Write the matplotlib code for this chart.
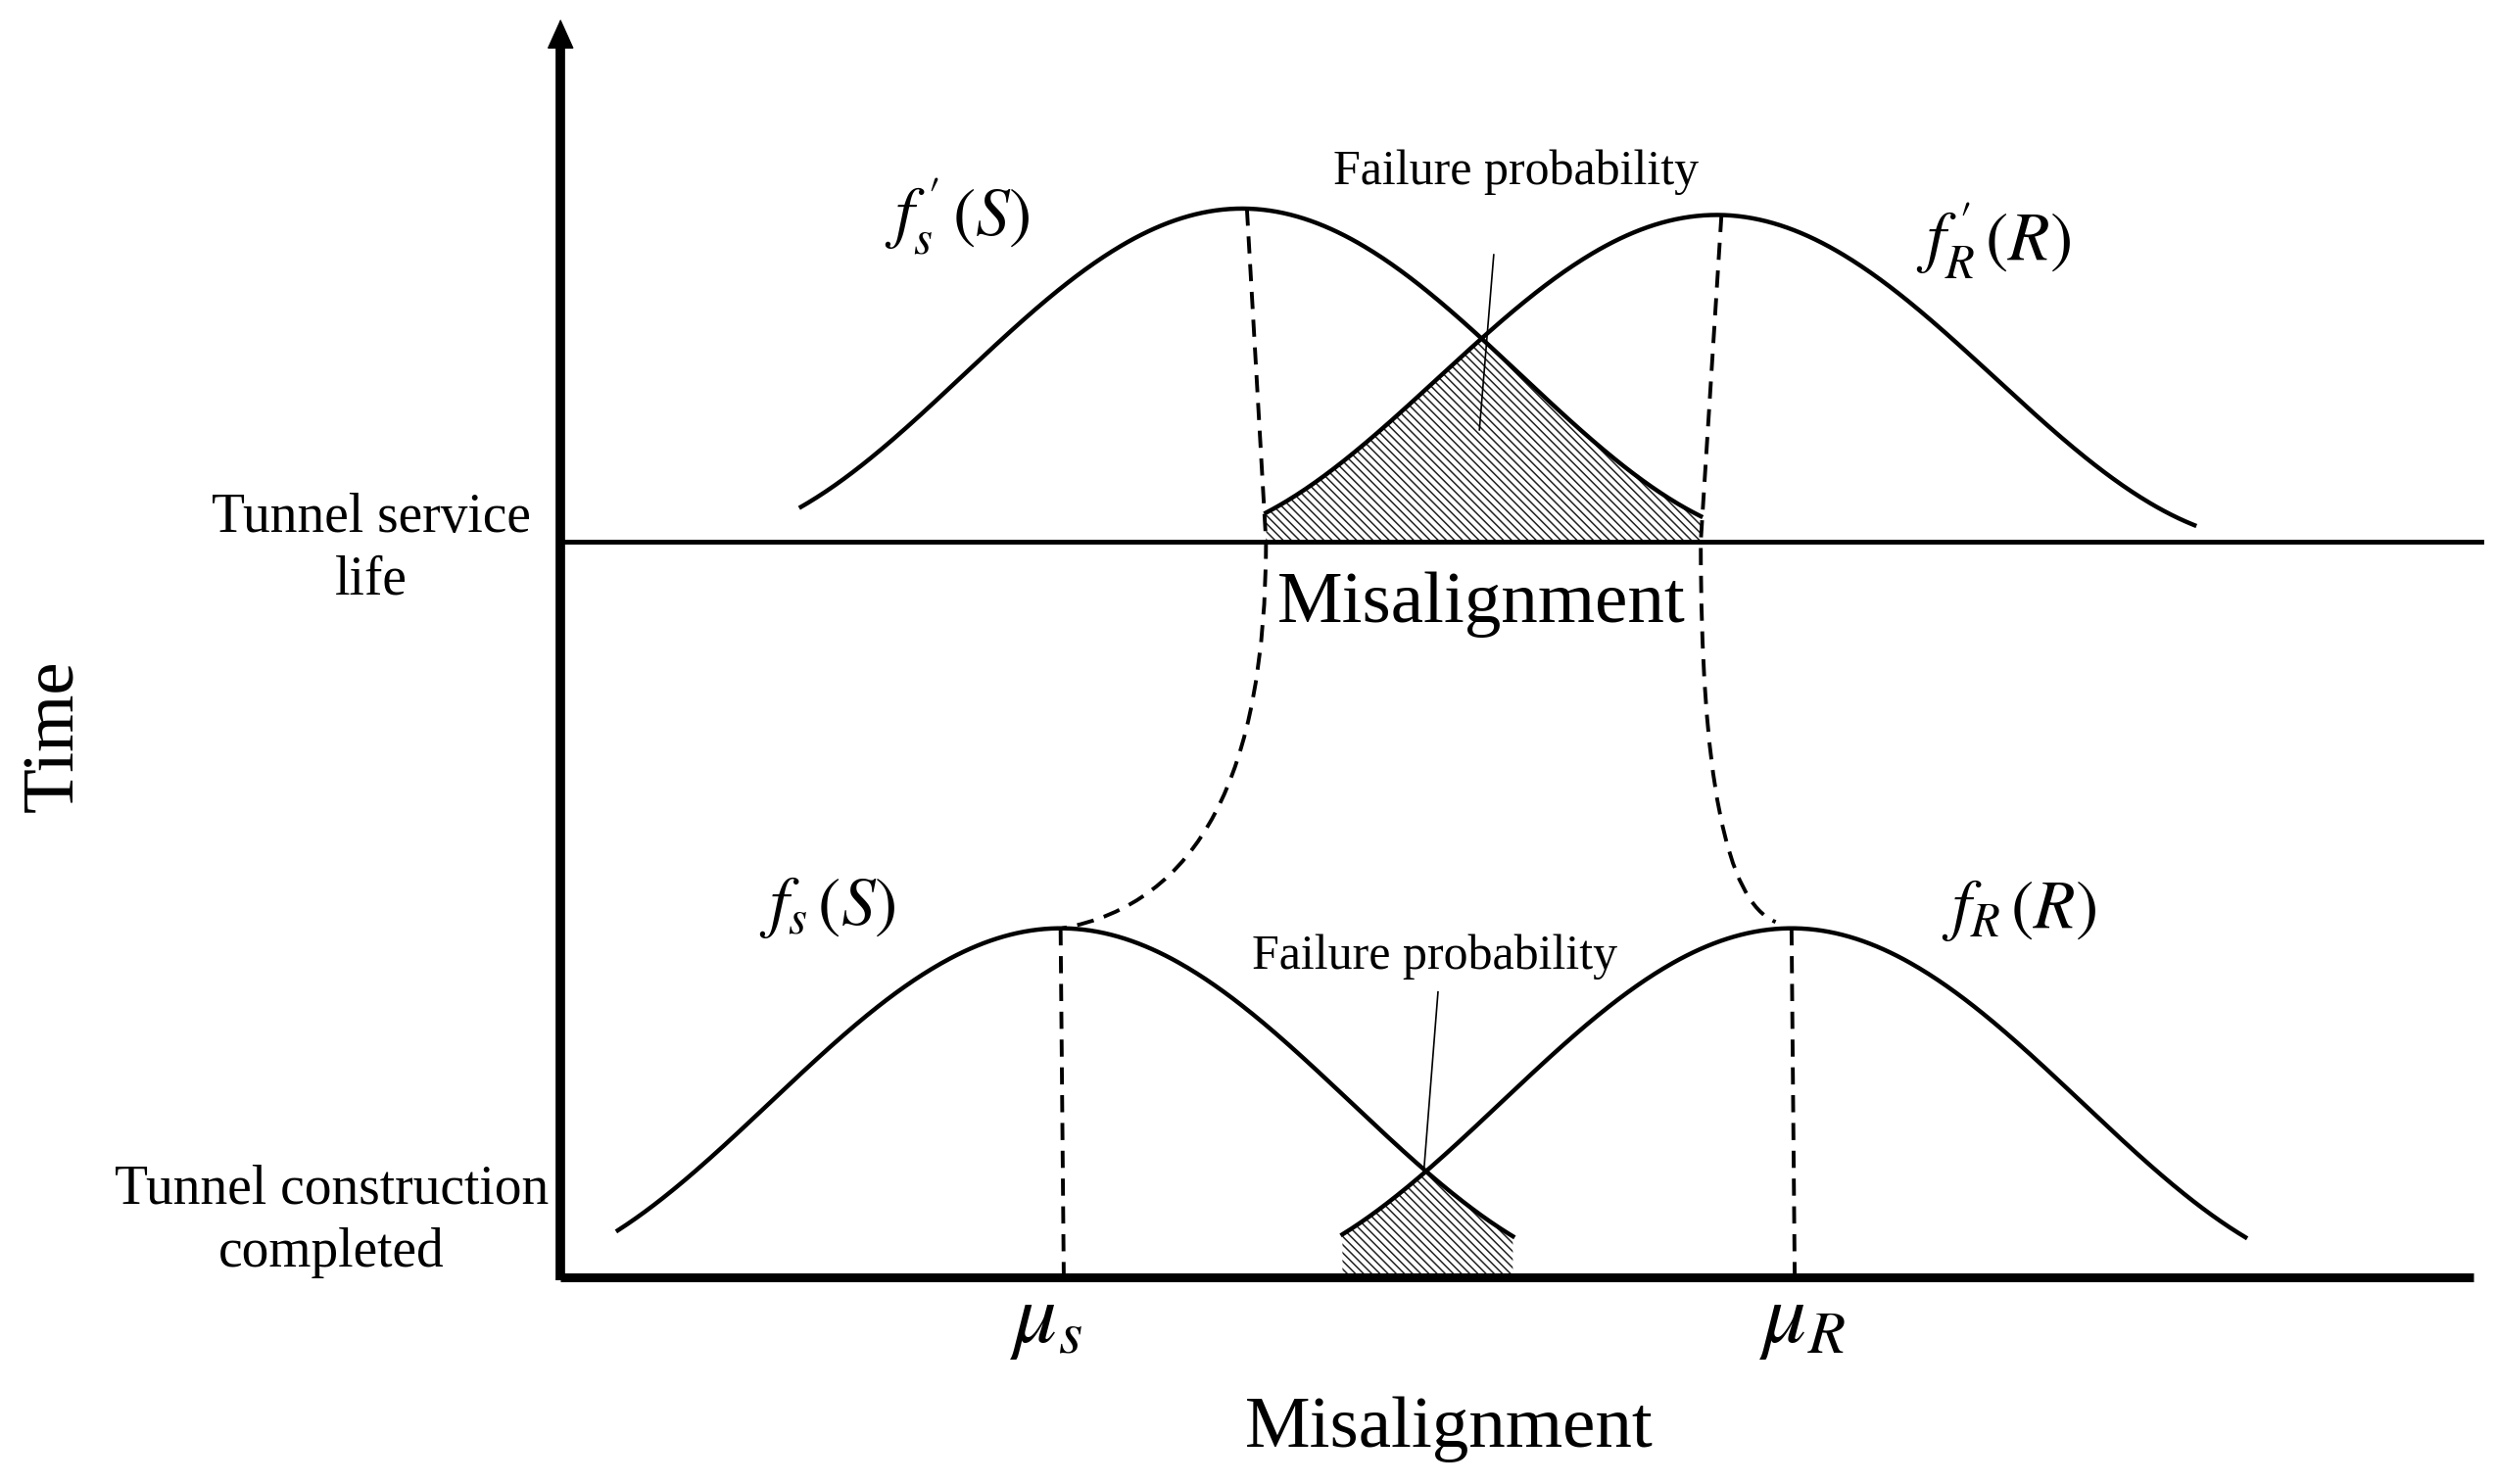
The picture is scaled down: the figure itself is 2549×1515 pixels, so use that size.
import numpy as np
import matplotlib.pyplot as plt
from matplotlib.path import Path
from matplotlib.patches import PathPatch

plt.rcParams['font.family'] = ['Liberation Serif', 'DejaVu Serif']
plt.rcParams['mathtext.fontset'] = 'stix'
plt.rcParams['hatch.linewidth'] = 1.1

# schematic frame (x to the right, y downwards, as in the source picture)
axis_x0 = 352          # time axis position
axis_x1 = 1553         # end of misalignment axis
baseline_built = 802   # "Tunnel construction completed"
baseline_service = 340 # "Tunnel service life"

# density curves: f_s'(S), f_R'(R), f_s(S), f_R(R)
curve_centre = [780, 1078, 666, 1125]
curve_peak = [209, 205, 219, 219]
curve_halfwidth = [350, 350, 365, 365]
curve_start = [503, 795, 388, 843]
curve_end = [1068, 1378, 950, 1410]
curve_base = [baseline_service, baseline_service, baseline_built, baseline_built]

# overlap (failure probability) limits
overlap_service = [795, 1068]
overlap_built = [843, 950]


def bell(x, c, a, w):
    return a * (1 + np.cos(np.pi * np.clip((x - c) / w, -1, 1))) / 2


def curve_y(i, x):
    return curve_base[i] - bell(x, curve_centre[i], curve_peak[i], curve_halfwidth[i])


fig = plt.figure(figsize=(25.49, 15.15), dpi=100)
ax = fig.add_axes([0, 0, 1, 1])
ax.set_xlim(0, 1568)
ax.set_ylim(932, 0)
ax.axis('off')

# axes
ax.plot([axis_x0, axis_x0], [baseline_built + 2, 28], color='black', lw=7, solid_capstyle='butt')
ax.annotate('', xy=(axis_x0, 12), xytext=(axis_x0, 50),
            arrowprops=dict(arrowstyle='-|>,head_length=1.0,head_width=0.45', mutation_scale=20,
                            color='black', lw=1, shrinkA=0, shrinkB=0))
ax.plot([axis_x0, axis_x1], [baseline_built, baseline_built], color='black', lw=6.5, solid_capstyle='butt')
ax.plot([axis_x0, 1558], [baseline_service, baseline_service], color='black', lw=3.5)

# failure probability areas
for (x0, x1), (i, j) in [(overlap_service, (0, 1)), (overlap_built, (2, 3))]:
    xs = np.linspace(x0, x1, 200)
    top = np.maximum(curve_y(i, xs), curve_y(j, xs))
    ax.fill_between(xs, top, curve_base[i], facecolor='white', edgecolor='#222222',
                    hatch='\\\\\\\\', lw=0)

# density curves
for i in range(4):
    xs = np.linspace(curve_start[i], curve_end[i], 400)
    ax.plot(xs, curve_y(i, xs), color='black', lw=3.2)

dash = (0, (4.5, 2.8))

# mean lines, built state
for i in (2, 3):
    ax.plot([curve_centre[i], curve_centre[i] + 2], [curve_y(i, curve_centre[i]), baseline_built],
            color='black', lw=2.8, linestyle=dash)

# shift of the means from construction to service life
for top_i, bot_i, xm in [(0, 2, overlap_service[0]), (1, 3, overlap_service[1])]:
    p0 = (curve_centre[top_i] + 3, curve_y(top_i, curve_centre[top_i]))
    p1 = (xm, baseline_service)
    p2 = (xm, 560)
    p3 = (curve_centre[bot_i] + (1 if bot_i == 2 else -10), curve_y(bot_i, curve_centre[bot_i]) + (0 if bot_i == 2 else -4))
    path = Path([p0, p1, p2, p3], [Path.MOVETO, Path.LINETO, Path.CURVE3, Path.CURVE3])
    ax.add_patch(PathPatch(path, facecolor='none', edgecolor='black', lw=2.8, linestyle=dash))

# leader lines for failure probability
ax.plot([938, 929], [160, 270], color='black', lw=1.2)
ax.plot([903, 894], [623, 737], color='black', lw=1.2)

# text
ax.text(35, 462, 'Time', rotation=90, fontsize=54, ha='center', va='center')
ax.text(910, 898, 'Misalignment', fontsize=54, ha='center', va='center')
ax.text(930, 380, 'Misalignment', fontsize=54, ha='center', va='center')
ax.text(233, 345, 'Tunnel service\nlife', fontsize=40, ha='center', va='center',
        multialignment='center', linespacing=1.3)
ax.text(208, 767, 'Tunnel construction\ncompleted', fontsize=40, ha='center', va='center',
        multialignment='center', linespacing=1.3)
ax.text(952, 108, 'Failure probability', fontsize=36, ha='center', va='center')
ax.text(901, 601, 'Failure probability', fontsize=36, ha='center', va='center')

math_kw = dict(ha='center', va='center')
ax.text(601, 136, r"$f_s^{\,\prime}\,(S)$", fontsize=50, **math_kw)
ax.text(1252, 151, r"$f_R^{\,\prime}\,(R)$", fontsize=50, **math_kw)
ax.text(520, 570, r"$f_s\,(S)$", fontsize=50, **math_kw)
ax.text(1268, 572, r"$f_R\,(R)$", fontsize=50, **math_kw)
ax.text(657, 830, r"$\mu_s$", fontsize=64, **math_kw)
ax.text(1132, 830, r"$\mu_R$", fontsize=64, **math_kw)

fig.savefig('out.png', dpi=100)
